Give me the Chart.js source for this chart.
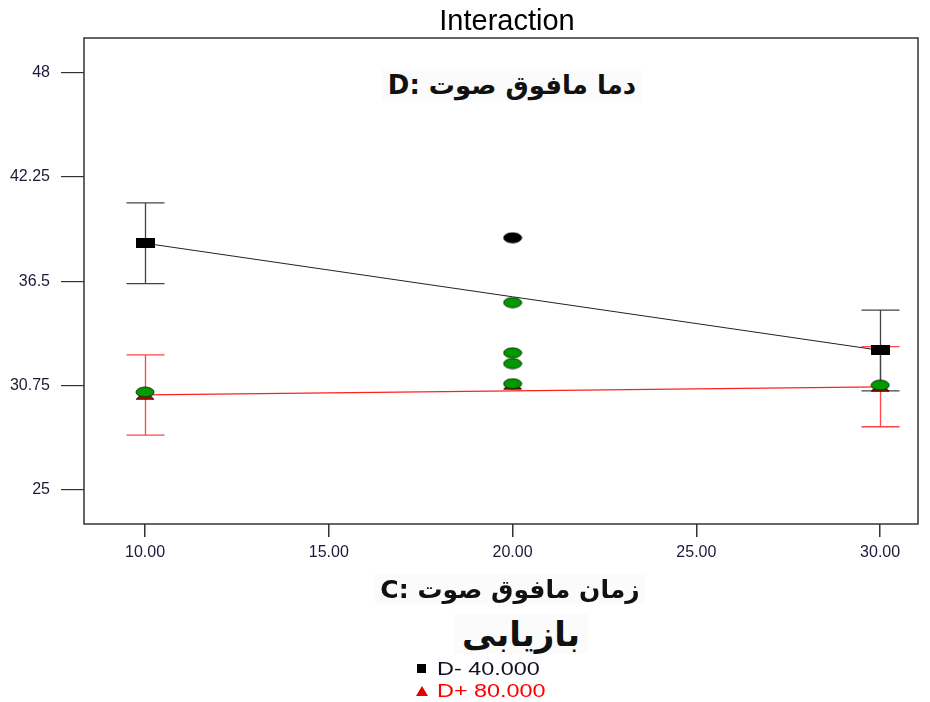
<!DOCTYPE html>
<html>
<head>
<meta charset="utf-8">
<script src="https://cdn.jsdelivr.net/npm/chart.js@4.4.1/dist/chart.umd.min.js"></script>
<style>
  html, body { margin: 0; padding: 0; background: #fff; }
  #wrap { position: relative; width: 930px; height: 702px; overflow: hidden; }
  canvas { position: absolute; left: 0; top: 0; }
  .t { position: absolute; white-space: nowrap; transform: translate(-50%, -50%); }
  #title { left: 507px; top: 20px; font: 29px "Liberation Sans", Arial, sans-serif; color: #000; line-height: 32px; }
  #sub { left: 512px; top: 85px; font: bold 26px "DejaVu Sans", sans-serif; color: #111; background: #fbfbfb; padding: 1px 6px; }
  #xlab { left: 510px; top: 589px; font: bold 25px "DejaVu Sans", sans-serif; color: #111; background: #fbfbfb; padding: 0 6px; }
  #ylab { left: 521px; top: 634px; font: bold 34px "DejaVu Sans", sans-serif; color: #111; background: #fbfbfb; padding: 0 8px; line-height: 40px; }
  .lg { position: absolute; font: 18px "Liberation Sans", Arial, sans-serif; white-space: nowrap; line-height: 20px; transform: scaleX(1.3); transform-origin: 0 50%; }
  #lg1 { left: 437px; top: 659px; color: #101020; }
  #lg2 { left: 437px; top: 681px; color: #ff0000; }
  #m1 { position: absolute; left: 417px; top: 664px; width: 9px; height: 9px; background: #000; }
  #m2 { position: absolute; left: 416px; top: 686px; width: 0; height: 0; border-left: 6px solid transparent; border-right: 6px solid transparent; border-bottom: 10px solid #e00000; }
</style>
</head>
<body>
<div id="wrap">
  <canvas id="c" width="930" height="702"></canvas>
  <div class="t" id="title">Interaction</div>
  <div class="t" id="sub" dir="rtl">دما مافوق صوت :D</div>
  <div class="t" id="xlab" dir="rtl">زمان مافوق صوت :C</div>
  <div class="t" id="ylab" dir="rtl">بازیابی</div>
  <div id="m1"></div><div class="lg" id="lg1">D- 40.000</div>
  <div id="m2"></div><div class="lg" id="lg2">D+ 80.000</div>
</div>
<script>
// ---- data ----
const factorC = [10, 30];                  // x levels of interaction lines
const dMinusMeans = [38.60, 32.70];        // D- 40.000
const dPlusMeans = [30.24, 30.69];         // D+ 80.000
const dMinusLow = [36.37, 30.47];
const dMinusHigh = [40.83, 34.92];
const dPlusLow = [28.03, 28.49];
const dPlusHigh = [32.45, 32.90];
const greenX = [20, 20, 20, 20, 10, 30];   // design points
const greenY = [35.33, 32.56, 31.97, 30.86, 30.40, 30.78];
const blackPtX = [20];
const blackPtY = [38.90];
const redPtX = [20];
const redPtY = [30.80];
const xTicks = [10, 15, 20, 25, 30];
const yTicks = [25, 30.75, 36.5, 42.25, 48];
const xRange = [8.34, 31.03];
const yRange = [23.13, 49.91];

// ---- marker images ----
function mk(w, h, draw) {
  const c = document.createElement('canvas');
  c.width = w; c.height = h;
  draw(c.getContext('2d'), w, h);
  return c;
}
const sqImg = mk(19, 10, (g, w, h) => { g.fillStyle = '#000'; g.fillRect(0, 0, w, h); });
function ellipse(fill, stroke) {
  return mk(20, 12, (g, w, h) => {
    g.beginPath(); g.ellipse(w / 2, h / 2, 9, 5, 0, 0, Math.PI * 2);
    g.fillStyle = fill; g.fill(); g.lineWidth = 1; g.strokeStyle = stroke; g.stroke();
  });
}
const greenImg = ellipse('#009a00', '#003000');
const blackImg = ellipse('#000', '#000');
const triImg = mk(20, 11, (g, w, h) => {
  g.beginPath(); g.moveTo(w / 2, 1); g.lineTo(w - 1, h - 1); g.lineTo(1, h - 1); g.closePath();
  g.fillStyle = '#e00000'; g.fill(); g.lineWidth = 1; g.strokeStyle = '#000'; g.stroke();
});

const pts = (xs, ys) => xs.map((x, i) => ({ x: x, y: ys[i] }));

// ---- plugins ----
const errorBars = {
  id: 'errorBars',
  beforeDatasetsDraw(chart) {
    const g = chart.ctx, xs = chart.scales.x, ys = chart.scales.y;
    const draw = (lo, hi, color) => {
      g.save(); g.strokeStyle = color; g.lineWidth = 1.3;
      factorC.forEach((c, i) => {
        const px = Math.round(xs.getPixelForValue(c)) + 0.5;
        const y1 = ys.getPixelForValue(lo[i]), y2 = ys.getPixelForValue(hi[i]);
        g.beginPath();
        g.moveTo(px, y1); g.lineTo(px, y2);
        g.moveTo(px - 19, y1); g.lineTo(px + 19, y1);
        g.moveTo(px - 19, y2); g.lineTo(px + 19, y2);
        g.stroke();
      });
      g.restore();
    };
    draw(dPlusLow, dPlusHigh, '#ff4545');
    draw(dMinusLow, dMinusHigh, '#444');
  }
};
const frame = {
  id: 'frame',
  afterDraw(chart) {
    const a = chart.chartArea, g = chart.ctx;
    g.save(); g.strokeStyle = '#333'; g.lineWidth = 1.5;
    g.strokeRect(a.left, a.top, a.right - a.left, a.bottom - a.top);
    g.restore();
  }
};

new Chart(document.getElementById('c'), {
  type: 'scatter',
  data: {
    datasets: [
      { label: 'green', data: pts(greenX, greenY), pointStyle: greenImg, order: 1 },
      { label: 'black', data: pts(blackPtX, blackPtY), pointStyle: blackImg, order: 1 },
      { label: 'redpt', data: pts(redPtX, redPtY), pointStyle: triImg, order: 2 },
      { label: 'D- 40.000', data: pts(factorC, dMinusMeans), showLine: true, borderColor: '#222', borderWidth: 1, pointStyle: sqImg, order: 3 },
      { label: 'D+ 80.000', data: pts(factorC, dPlusMeans), showLine: true, borderColor: '#ff2020', borderWidth: 1.2, pointStyle: triImg, order: 4 }
    ]
  },
  options: {
    responsive: false,
    animation: false,
    layout: { padding: { top: 38, right: 12, left: 0, bottom: 0 } },
    plugins: { legend: { display: false }, tooltip: { enabled: false }, title: { display: false } },
    scales: {
      x: {
        type: 'linear', min: xRange[0], max: xRange[1],
        afterFit(s) { s.height = 178; },
        afterBuildTicks(s) { s.ticks = xTicks.map(v => ({ value: v })); },
        border: { display: false },
        grid: { drawOnChartArea: false, drawTicks: true, tickLength: 13, color: '#333', lineWidth: 1.5 },
        ticks: { padding: 6, color: '#1a1a3a', font: { family: 'Liberation Sans, Arial', size: 16 }, callback: v => Number(v).toFixed(2), maxRotation: 0, autoSkip: false }
      },
      y: {
        type: 'linear', min: yRange[0], max: yRange[1],
        afterFit(s) { s.width = 84; },
        afterBuildTicks(s) { s.ticks = yTicks.map(v => ({ value: v })); },
        border: { display: false },
        grid: { drawOnChartArea: false, drawTicks: true, tickLength: 23, color: '#333', lineWidth: 1.2 },
        ticks: { padding: 11, color: '#1a1a3a', font: { family: 'Liberation Sans, Arial', size: 16 }, callback: v => String(v), autoSkip: false }
      }
    }
  },
  plugins: [errorBars, frame]
});
</script>
</body>
</html>
